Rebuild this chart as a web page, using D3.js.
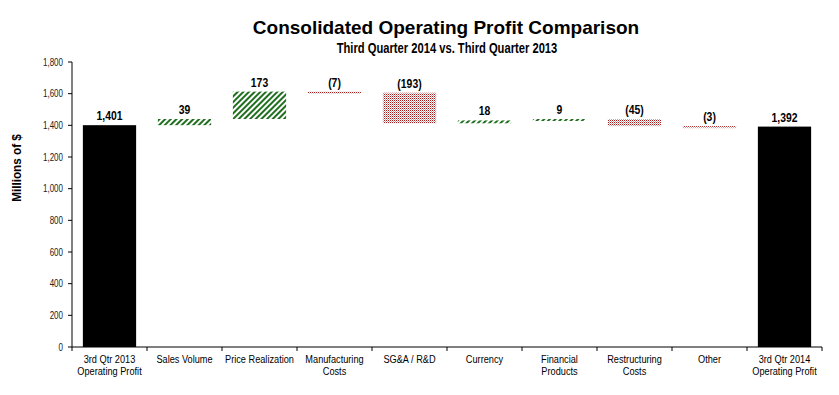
<html>
<head>
<script src="https://cdn.jsdelivr.net/npm/d3@7"></script>
<style>
  body { margin: 0; background: #fff; }
  text { font-family: "Liberation Sans", Arial, sans-serif; }
</style>
</head>
<body>
<script>
// chart data
var categories = [
  ["3rd Qtr 2013", "Operating Profit"],
  ["Sales Volume"],
  ["Price Realization"],
  ["Manufacturing", "Costs"],
  ["SG&A / R&D"],
  ["Currency"],
  ["Financial", "Products"],
  ["Restructuring", "Costs"],
  ["Other"],
  ["3rd Qtr 2014", "Operating Profit"]
];
var values = [1401, 39, 173, -7, -193, 18, 9, -45, -3, 1392];
var kinds = ["total", "step", "step", "step", "step", "step", "step", "step", "step", "total"];
var yTicks = [0, 200, 400, 600, 800, 1000, 1200, 1400, 1600, 1800];

var W = 839, H = 395;
var NARROW = 0.8;
var svg = d3.select("body").append("svg").attr("width", W).attr("height", H);

// narrow text helper (squeezes Liberation Sans horizontally)
function ntext(sel, cx, cy) {
  return sel.append("text").attr("transform", "translate(" + cx + "," + cy + ") scale(" + NARROW + ",1)");
}

// patterns
var defs = svg.append("defs");
var hatch = defs.append("pattern").attr("id", "hatch")
  .attr("patternUnits", "userSpaceOnUse").attr("width", 4).attr("height", 4)
  .attr("patternTransform", "rotate(45)");
hatch.append("rect").attr("width", 4).attr("height", 4).attr("fill", "#fff");
hatch.append("rect").attr("width", 2).attr("height", 4).attr("fill", "#1f6f1f");

var dots = defs.append("pattern").attr("id", "dots")
  .attr("patternUnits", "userSpaceOnUse").attr("width", 2).attr("height", 2);
dots.append("rect").attr("width", 2).attr("height", 2).attr("fill", "#fff");
dots.append("rect").attr("width", 1).attr("height", 1).attr("fill", "#a51c1c");
dots.append("rect").attr("x", 1).attr("y", 1).attr("width", 1).attr("height", 1).attr("fill", "#d9a0a0");

var mLeft = 72, mRight = 822, mTop = 62, mBottom = 347;

var x = d3.scaleBand().domain(d3.range(categories.length)).range([mLeft, mRight]).padding(0);
var xb = d3.scaleBand().domain(d3.range(categories.length)).range([mLeft, mRight])
  .paddingInner(0.29).paddingOuter(0.145);
var y = d3.scaleLinear().domain([0, 1800]).range([mBottom, mTop]);

// waterfall spans
var run = 0;
var bars = values.map(function(v, i) {
  var b;
  if (kinds[i] == "total") { b = {lo: 0, hi: v, v: v, i: i, kind: "total"}; run = v; }
  else { b = {lo: Math.min(run, run + v), hi: Math.max(run, run + v), v: v, i: i, kind: v >= 0 ? "up" : "down"}; run += v; }
  return b;
});

svg.selectAll(".bar").data(bars).enter().append("rect")
  .attr("class", "bar")
  .attr("x", function(d) { return xb(d.i); })
  .attr("width", xb.bandwidth())
  .attr("y", function(d) { return y(d.hi); })
  .attr("height", function(d) { return Math.max(2, y(d.lo) - y(d.hi)); })
  .attr("fill", function(d) { return d.kind == "total" ? "#000" : d.kind == "up" ? "url(#hatch)" : "url(#dots)"; });

var fmt = d3.format(",");
bars.forEach(function(d) {
  ntext(svg, xb(d.i) + xb.bandwidth() / 2, y(d.hi) - 5)
    .attr("text-anchor", "middle")
    .attr("font-size", 13).attr("font-weight", "bold")
    .text(d.v < 0 ? "(" + fmt(-d.v) + ")" : fmt(d.v));
});

// y axis
var g = svg.append("g");
g.append("line").attr("x1", mLeft).attr("x2", mLeft).attr("y1", mTop).attr("y2", mBottom).attr("stroke", "#000");
g.selectAll(".yt").data(yTicks).enter().append("line")
  .attr("x1", mLeft - 4).attr("x2", mLeft).attr("y1", function(d) { return y(d); }).attr("y2", function(d) { return y(d); })
  .attr("stroke", "#000");
yTicks.forEach(function(d) {
  ntext(g, mLeft - 9, y(d) + 3.5)
    .attr("text-anchor", "end").attr("font-size", 10).attr("fill", "#222")
    .text(fmt(d));
});

// x axis
g.append("line").attr("x1", mLeft).attr("x2", mRight).attr("y1", mBottom).attr("y2", mBottom).attr("stroke", "#000");
var bounds = d3.range(categories.length).map(function(i) { return x(i); }).concat([mRight]);
g.selectAll(".xt").data(bounds).enter().append("line")
  .attr("x1", function(d) { return d; }).attr("x2", function(d) { return d; })
  .attr("y1", mBottom).attr("y2", mBottom + 4).attr("stroke", "#000");
categories.forEach(function(lines, i) {
  var t = ntext(g, x(i) + x.bandwidth() / 2, 363)
    .attr("text-anchor", "middle").attr("font-size", 11.5).attr("fill", "#000");
  lines.forEach(function(s, j) {
    t.append("tspan").attr("x", 0).attr("y", j * 12.5).text(s);
  });
});

// titles
svg.append("text").attr("x", 446).attr("y", 34).attr("text-anchor", "middle")
  .attr("font-size", 19).attr("font-weight", "bold")
  .text("Consolidated Operating Profit Comparison");
ntext(svg, 447, 53).attr("text-anchor", "middle")
  .attr("font-size", 14).attr("font-weight", "bold")
  .text("Third Quarter 2014 vs. Third Quarter 2013");
svg.append("text").attr("transform", "translate(21,168) rotate(-90) scale(0.9,1)").attr("text-anchor", "middle")
  .attr("font-size", 13).attr("font-weight", "bold")
  .text("Millions of $");
</script>
</body>
</html>
